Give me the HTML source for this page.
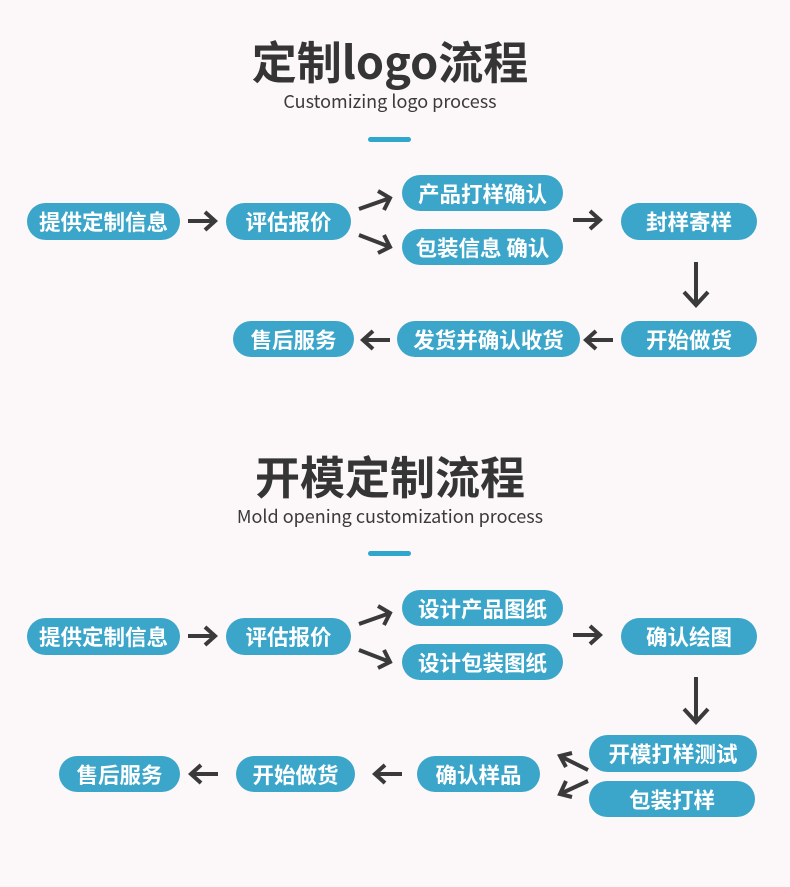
<!DOCTYPE html>
<html><head><meta charset="utf-8"><style>
html,body{margin:0;padding:0}
body{width:790px;height:887px;background:#fcf7f9;position:relative;overflow:hidden;font-family:"Liberation Sans","Noto Sans CJK SC",sans-serif}
.t{position:absolute;left:-5px;width:790px;text-align:center;color:#353535;font-family:"Noto Sans CJK SC",sans-serif}
.h{font-size:45px;font-weight:700;line-height:1}
.s{font-size:18px;line-height:1;color:#3a3a3a}
.bar{position:absolute;left:368px;width:43px;height:5px;border-radius:3px;background:#2fa6cc}
.p{position:absolute;background:#3ba6ca;color:#fff;border-radius:19px;font-family:"Noto Sans CJK SC",sans-serif;font-weight:700;font-size:21.5px;display:flex;align-items:center;justify-content:center;letter-spacing:0}
svg{position:absolute;left:0;top:0}
</style></head><body>
<div class="t h" style="top:37px">定制logo流程</div>
<div class="t s" style="top:92px">Customizing logo process</div>
<div class="bar" style="top:137px"></div>
<div class="t h" style="top:452px">开模定制流程</div>
<div class="t s" style="top:507px">Mold opening customization process</div>
<div class="bar" style="top:551px"></div>

<div class="p" style="left:27px;top:203px;width:153px;height:37px">提供定制信息</div>
<div class="p" style="left:226px;top:203px;width:125px;height:37px">评估报价</div>
<div class="p" style="left:402px;top:175px;width:161px;height:36px">产品打样确认</div>
<div class="p" style="left:402px;top:229px;width:161px;height:36px">包装信息 确认</div>
<div class="p" style="left:621px;top:203px;width:136px;height:37px">封样寄样</div>
<div class="p" style="left:621px;top:321px;width:136px;height:36px">开始做货</div>
<div class="p" style="left:397px;top:321px;width:183px;height:36px">发货并确认收货</div>
<div class="p" style="left:233px;top:321px;width:121px;height:36px">售后服务</div>

<div class="p" style="left:27px;top:618px;width:153px;height:37px">提供定制信息</div>
<div class="p" style="left:226px;top:618px;width:125px;height:37px">评估报价</div>
<div class="p" style="left:402px;top:590px;width:161px;height:36px">设计产品图纸</div>
<div class="p" style="left:402px;top:644px;width:161px;height:36px">设计包装图纸</div>
<div class="p" style="left:621px;top:618px;width:136px;height:37px">确认绘图</div>
<div class="p" style="left:589px;top:735px;width:168px;height:37px">开模打样测试</div>
<div class="p" style="left:589px;top:781px;width:166px;height:36px">包装打样</div>
<div class="p" style="left:417px;top:756px;width:123px;height:36px">确认样品</div>
<div class="p" style="left:236px;top:756px;width:119px;height:36px">开始做货</div>
<div class="p" style="left:59px;top:756px;width:121px;height:36px">售后服务</div>

<svg width="790" height="887" fill="none" stroke="#3a3a3a" stroke-width="4" stroke-linecap="butt" stroke-linejoin="miter">
<defs><g id="r"><path d="M0 0H27M17-9L27 0L17 9"/></g></defs>
<use href="#r" x="188" y="221"/>
<path d="M359 209L390 198M378 191L390 198L384 210"/>
<path d="M359 235L390 247M384 235L390 247L378 253"/>
<use href="#r" x="573" y="220"/>
<path d="M696 262V304M684 292L696 305L708 292"/>
<g transform="translate(613 340) scale(-1 1)"><use href="#r"/></g>
<g transform="translate(390 340) scale(-1 1)"><use href="#r"/></g>
<use href="#r" x="188" y="636"/>
<path d="M359 624L390 613M378 606L390 613L384 625"/>
<path d="M359 650L390 662M384 650L390 662L378 668"/>
<use href="#r" x="573" y="635"/>
<path d="M696 677V721M684 709L696 722L708 709"/>
<path d="M588 770L560 756M566 767L560 756L572 753"/>
<path d="M588 781L560 794M566 781L560 794L572 797"/>
<g transform="translate(402 774) scale(-1 1)"><use href="#r"/></g>
<g transform="translate(218 774) scale(-1 1)"><use href="#r"/></g>
</svg>
</body></html>
